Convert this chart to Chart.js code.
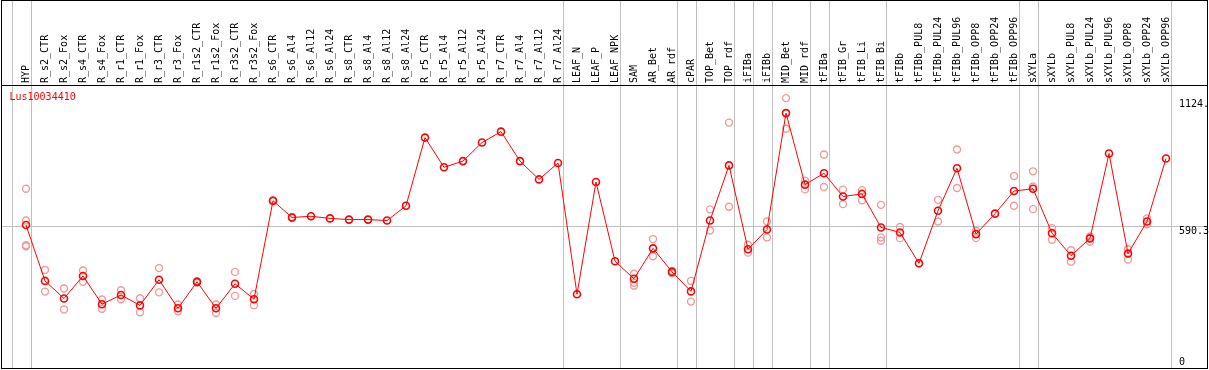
<!DOCTYPE html>
<html><head><meta charset="utf-8">
<script src="https://cdn.jsdelivr.net/npm/chart.js@4.4.1/dist/chart.umd.min.js"></script>
<style>html,body{margin:0;padding:0;background:#fff;}canvas{display:block;}</style>
</head><body>
<canvas id="c" width="1209" height="370"></canvas>
<script>
const chartTitle = 'Lus10034410';
const categories = ['HYP','R_s2_CTR','R_s2_Fox','R_s4_CTR','R_s4_Fox','R_r1_CTR','R_r1_Fox','R_r3_CTR','R_r3_Fox','R_r1s2_CTR','R_r1s2_Fox','R_r3s2_CTR','R_r3s2_Fox','R_s6_CTR','R_s6_Al4','R_s6_Al12','R_s6_Al24','R_s8_CTR','R_s8_Al4','R_s8_Al12','R_s8_Al24','R_r5_CTR','R_r5_Al4','R_r5_Al12','R_r5_Al24','R_r7_CTR','R_r7_Al4','R_r7_Al12','R_r7_Al24','LEAF_N','LEAF_P','LEAF_NPK','SAM','AR_Bet','AR_rdf','cPAR','TOP_Bet','TOP_rdf','iFIBa','iFIBb','MID_Bet','MID_rdf','tFIBa','tFIB_Gr','tFIB_Li','tFIB_Bi','tFIBb','tFIBb_PUL8','tFIBb_PUL24','tFIBb_PUL96','tFIBb_OPP8','tFIBb_OPP24','tFIBb_OPP96','sXYLa','sXYLb','sXYLb_PUL8','sXYLb_PUL24','sXYLb_PUL96','sXYLb_OPP8','sXYLb_OPP24','sXYLb_OPP96'];
const means = [593,358,284,379,260,299,255,363,243,354,243,346,281,695,625,630,621,616,616,612,674,961,836,862,940,986,862,785,854,302,774,441,367,495,396,314,612,844,491,574,1064,763,811,713,724,583,562,432,653,832,555,641,736,746,559,464,537,894,473,608,873];
const replicates = [[746,612,508,504],[404,313],[326,238],[402,354],[280,241],[319,281],[285,226],[412,310],[259,230],[357,351],[259,223],[396,295],[303,256],[697,693],[627,623],[],[],[],[],[],[],[],[],[],[],[],[],[],[],[],[],[],[388,350,338],[534,462],[400,390],[358,271],[659,570],[1024,670],[510,477],[608,541],[1127,998],[780,743],[890,753],[742,681],[740,697],[678,541,527],[585,538],[],[699,608],[911,749],[569,538],[],[799,674],[819,755,660],[580,531],[487,439],[545,523],[],[491,448],[621,596],[]];
const groupEnds = [-1,0,28,31,34,35,37,38,39,41,42,45,52,53,60];
const yTickValues = [0, 590.3, 1124];
const yTickLabels = ['0', '590.3', '1124.'];
const gridValues = [590.3];

const FONT = '10px "DejaVu Sans Mono", monospace';
const repData = [];
replicates.forEach((arr, i) => arr.forEach(v => repData.push({x: categories[i], y: v})));

const decor = {
  id: 'decor',
  beforeDatasetsDraw(chart) {
    const ctx = chart.ctx, xs = chart.scales.x, ys = chart.scales.y;
    ctx.save();
    ctx.strokeStyle = '#c0c0c0';
    ctx.lineWidth = 1;
    groupEnds.forEach(g => {
      const x = Math.round(xs.getPixelForValue(g + 0.25)) + 0.5;
      ctx.beginPath(); ctx.moveTo(x, 0); ctx.lineTo(x, 368); ctx.stroke();
    });
    gridValues.forEach(v => {
      const y = Math.round(ys.getPixelForValue(v)) + 0.5;
      ctx.beginPath(); ctx.moveTo(1, y); ctx.lineTo(1207, y); ctx.stroke();
    });
    ctx.restore();
  },
  afterDraw(chart) {
    const ctx = chart.ctx, ys = chart.scales.y;
    ctx.save();
    ctx.strokeStyle = '#000';
    ctx.lineWidth = 1;
    ctx.strokeRect(1.5, 0.5, 1206, 368);
    ctx.beginPath(); ctx.moveTo(1, 85.5); ctx.lineTo(1207, 85.5); ctx.stroke();
    ctx.font = FONT;
    ctx.textBaseline = 'middle';
    ctx.textAlign = 'left';
    ctx.fillStyle = '#ff0000';
    ctx.fillText(chartTitle, 9.5, 97.5);
    ctx.fillStyle = '#000';
    yTickValues.forEach((v, i) => {
      const y = Math.min(ys.getPixelForValue(v) + 6, 362);
      ctx.fillText(yTickLabels[i], 1179, y);
    });
    ctx.restore();
  }
};

new Chart(document.getElementById('c'), {
  type: 'line',
  data: {
    labels: categories,
    datasets: [
      {
        data: means, borderColor: '#ff0000', borderWidth: 1,
        pointRadius: 3.5, pointBorderWidth: 1.6, pointBorderColor: '#ff0000',
        pointBackgroundColor: 'rgba(0,0,0,0)', tension: 0, order: 1
      },
      {
        data: repData, showLine: false, borderColor: '#f09a9a',
        pointRadius: 3.5, pointBorderWidth: 1.4, pointBorderColor: '#f09a9a',
        pointBackgroundColor: 'rgba(0,0,0,0)', order: 2
      }
    ]
  },
  options: {
    responsive: false, animation: false, devicePixelRatio: 1,
    layout: {padding: {left: 16.5, right: 33.5, top: 0, bottom: 2}},
    plugins: {legend: {display: false}, tooltip: {enabled: false}, title: {display: false}},
    scales: {
      x: {
        type: 'category', position: 'top', offset: true,
        grid: {display: false, drawTicks: false}, border: {display: false},
        ticks: {autoSkip: false, minRotation: 90, maxRotation: 90, padding: 3, labelOffset: 12,
                color: '#000', font: {family: '"DejaVu Sans Mono", monospace', size: 10}},
        afterFit(scale) { scale.height = 86; }
      },
      y: {type: 'linear', display: false, min: 6.8, max: 1178}
    }
  },
  plugins: [decor]
});
</script>
</body></html>
